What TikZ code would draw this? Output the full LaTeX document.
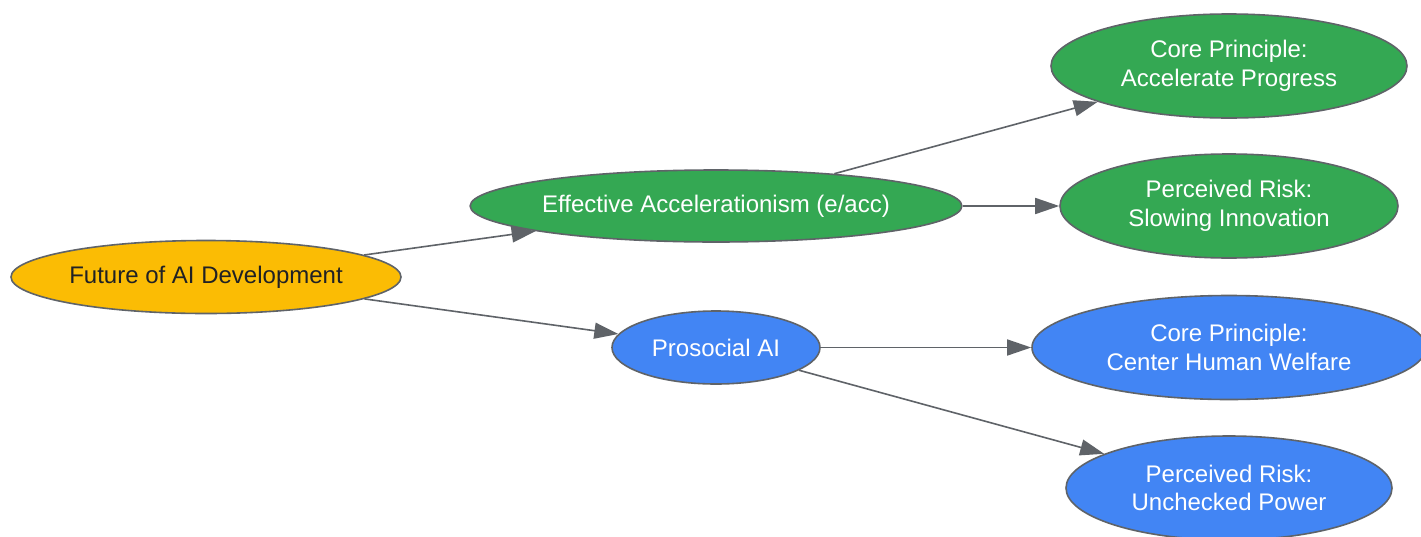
\documentclass[tikz,border=0pt]{standalone}
\usepackage{fontspec}
\setmainfont{Liberation Sans}
\usetikzlibrary{shapes.geometric,arrows.meta}
\definecolor{gyellow}{HTML}{FBBC04}
\definecolor{ggreen}{HTML}{34A853}
\definecolor{gblue}{HTML}{4285F4}
\definecolor{gborder}{HTML}{5F6368}
\definecolor{gtext}{HTML}{202124}
\begin{document}
\begin{tikzpicture}[x=1pt,y=-1pt,
  oval/.style={ellipse, draw=gborder, line width=1.6pt, inner sep=0pt, align=center,
    font=\fontsize{24}{28.5}\selectfont},
  rootnode/.style={oval, fill=gyellow, text=gtext},
  greennode/.style={oval, fill=ggreen, text=white},
  bluenode/.style={oval, fill=gblue, text=white},
  link/.style={draw=gborder, line width=1.6pt, -{Triangle[length=24pt,width=16pt]}}]
\fill[white] (0,0) rectangle (1421,536);
\useasboundingbox (0,0) rectangle (1421,536);
\clip (0,0) rectangle (1421,536);
\node[rootnode, minimum width=390pt, minimum height=73pt] (root) at (206,277) {Future of AI Development};
\node[greennode, minimum width=484pt, minimum height=72pt] (eacc) at (716,206) {Effective Accelerationism (e/acc)};
\node[bluenode, minimum width=208pt, minimum height=73pt] (pro) at (716,347.5) {Prosocial AI};
\node[greennode, minimum width=356pt, minimum height=104pt] (cp1) at (1229,66) {Core Principle:\\Accelerate Progress};
\node[greennode, minimum width=338pt, minimum height=104pt] (pr1) at (1229,206) {Perceived Risk:\\Slowing Innovation};
\node[bluenode, minimum width=394pt, minimum height=104pt] (cp2) at (1229,347.5) {Core Principle:\\Center Human Welfare};
\node[bluenode, minimum width=326pt, minimum height=104pt] (pr2) at (1229,488) {Perceived Risk:\\Unchecked Power};
\draw[link] (root) -- (eacc);
\draw[link] (root) -- (pro);
\draw[link] (eacc) -- (cp1);
\draw[link] (eacc) -- (pr1);
\draw[link] (pro) -- (cp2);
\draw[link] (pro) -- (pr2);
\end{tikzpicture}
\end{document}
